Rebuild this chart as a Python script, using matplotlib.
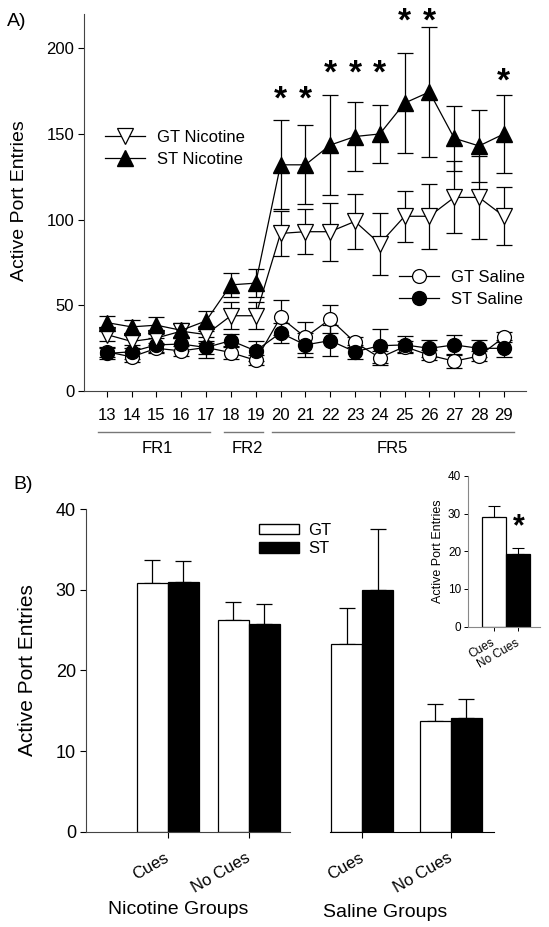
import matplotlib
matplotlib.use("Agg")
import matplotlib.pyplot as plt
from matplotlib.patches import Patch
import numpy as np

plt.rcParams['font.family'] = ['Liberation Sans', 'DejaVu Sans']

# ---- panel A data (sessions 13-29) ----
days = list(range(13, 30))
gt_nic = [33, 29, 31, 35, 33, 44, 44, 92, 93, 93, 99, 86, 102, 102, 113, 113, 102]
gt_nic_err = [4, 4, 4, 4, 5, 8, 8, 13, 13, 17, 16, 18, 15, 19, 21, 24, 17]
st_nic = [40, 37.5, 38.5, 35.5, 41, 62, 63, 132, 132, 143.5, 148.5, 150, 168, 174.5, 147.5, 143, 150]
st_nic_err = [4, 4, 5, 4, 6, 7, 8, 26, 23, 29, 20, 17, 29, 38, 19, 21, 23]
gt_sal = [23, 20, 25, 23.5, 25.5, 22.5, 18, 43, 31.5, 42, 28.5, 19.5, 26, 21, 17.5, 20.5, 31.5]
gt_sal_err = [3, 3, 3, 3, 4, 4, 3, 10, 9, 8, 3, 4, 3, 3, 4, 3, 3]
st_sal = [22, 23, 27, 27.5, 25.5, 29.5, 23.5, 34, 27, 29.5, 23, 26.5, 27, 25, 27, 25, 25]
st_sal_err = [3, 4, 4, 4, 6, 4, 6, 6, 7, 9, 4, 10, 5, 5, 6, 5, 5]

# significance stars (day, height)
star_days = [20, 21, 22, 23, 24, 25, 26, 29]
star_y = [170, 170, 185, 185, 185, 215, 215, 180]

# schedule brackets
phases = ['FR1', 'FR2', 'FR5']
phase_start = [12.64, 17.74, 19.67]
phase_end = [17.17, 19.29, 29.4]
phase_mid = [15.05, 18.66, 24.5]

# ---- panel B data ----
groups = ['Cues', 'No Cues', 'Cues', 'No Cues']
group_pos = [0, 1, 2.4, 3.49]
gt_b = [30.8, 26.2, 23.3, 13.75]
gt_b_err = [2.95, 2.3, 4.5, 2.1]
st_b = [31.0, 25.7, 30.0, 14.1]
st_b_err = [2.6, 2.5, 7.5, 2.4]

# inset
inset_labels = ['Cues', 'No Cues']
inset_vals = [29.0, 19.3]
inset_err = [3.0, 1.7]

fig = plt.figure(figsize=(5.49, 9.27), dpi=100)

# ================= panel A =================
axA = fig.add_axes([0.153, 0.578, 0.805, 0.407])
ms = 10
eb = dict(fmt='none', ecolor='black', elinewidth=0.9, capsize=6, capthick=0.9)

axA.errorbar(days, gt_sal, yerr=gt_sal_err, zorder=2, **eb)
axA.errorbar(days, st_sal, yerr=st_sal_err, zorder=2, **eb)
axA.errorbar(days, gt_nic, yerr=gt_nic_err, zorder=2, **eb)
axA.errorbar(days, st_nic, yerr=st_nic_err, zorder=2, **eb)

l_gs, = axA.plot(days, gt_sal, '-o', color='black', lw=0.9, ms=ms,
                 mfc='white', mec='black', mew=0.9, zorder=3, label='GT Saline')
l_ss, = axA.plot(days, st_sal, '-o', color='black', lw=0.9, ms=ms,
                 mfc='black', mec='black', zorder=4, label='ST Saline')
l_gn, = axA.plot(days, gt_nic, '-v', color='black', lw=0.9, ms=ms + 1,
                 mfc='white', mec='black', mew=0.9, zorder=5, label='GT Nicotine')
l_sn, = axA.plot(days, st_nic, '-^', color='black', lw=0.9, ms=ms + 1,
                 mfc='black', mec='black', zorder=6, label='ST Nicotine')

for d, y in zip(star_days, star_y):
    axA.text(d, y, '*', ha='center', va='center', fontsize=24, fontweight='bold',
             clip_on=False)

axA.set_xlim(12.08, 29.89)
axA.set_ylim(0, 220)
axA.set_xticks(days)
axA.set_yticks([0, 50, 100, 150, 200])
axA.tick_params(labelsize=12, length=4, width=0.8, direction='out', pad=3)
axA.tick_params(axis='x', pad=8)
for s in ['top', 'right']:
    axA.spines[s].set_visible(False)
axA.spines['left'].set_color('#444444')
axA.spines['bottom'].set_color('#444444')

leg1 = axA.legend(handles=[l_gn, l_sn], loc='upper left', bbox_to_anchor=(0.0475, 0.693),
                  frameon=False, fontsize=12, handlelength=2.4, handletextpad=0.7,
                  labelspacing=0.45, borderpad=0, borderaxespad=0, numpoints=1)
axA.add_artist(leg1)
axA.legend(handles=[l_gs, l_ss], loc='upper left', bbox_to_anchor=(0.713, 0.322),
           frameon=False, fontsize=12, handlelength=2.4, handletextpad=0.7,
           labelspacing=0.45, borderpad=0, borderaxespad=0, numpoints=1)

# phase brackets below axis
trA = axA.get_xaxis_transform()
for name, a, b, m in zip(phases, phase_start, phase_end, phase_mid):
    axA.plot([a, b], [-0.109, -0.109], color='#777777', lw=1, transform=trA, clip_on=False)
    axA.text(m, -0.152, name, ha='center', va='center', fontsize=12, transform=trA)

fig.text(0.035, 0.784, 'Active Port Entries', rotation=90, ha='center', va='center', fontsize=14)
fig.text(0.013, 0.977, 'A)', ha='left', va='center', fontsize=14)

# ================= panel B =================
axB = fig.add_axes([0.156, 0.1028, 0.743, 0.348])
w = 0.383
xpos = np.array(group_pos)
axB.bar(xpos - w / 2, gt_b, width=w, color='white', edgecolor='black', linewidth=0.9,
        label='GT', zorder=2)
axB.bar(xpos + w / 2, st_b, width=w, color='black', edgecolor='black', linewidth=0.9,
        label='ST', zorder=2)
axB.errorbar(xpos - w / 2, gt_b, yerr=[np.zeros(4), gt_b_err], fmt='none', ecolor='black',
             elinewidth=0.9, capsize=6, capthick=0.9, zorder=1)
axB.errorbar(xpos + w / 2, st_b, yerr=[np.zeros(4), st_b_err], fmt='none', ecolor='black',
             elinewidth=0.9, capsize=6, capthick=0.9, zorder=1)

axB.set_xlim(-1.015, 4.02)
axB.set_ylim(0, 40)
axB.set_yticks([0, 10, 20, 30, 40])
axB.set_xticks(xpos)
axB.set_xticklabels(groups, rotation=30, ha='right', va='center', rotation_mode='anchor')
axB.tick_params(axis='y', labelsize=13, length=4, width=0.8, pad=3)
axB.tick_params(axis='x', labelsize=12, length=4, width=0.8, pad=14)
for s in ['top', 'right']:
    axB.spines[s].set_visible(False)
# broken x axis
axB.spines['bottom'].set_bounds(-1.015, 1.51)
axB.axhline(0, xmin=(2.0 + 1.015) / (4.02 + 1.015), xmax=1, color='black', lw=0.8,
            clip_on=False)
axB.spines['left'].set_color('#444444')
axB.spines['bottom'].set_color('#444444')

axB.legend(handles=[Patch(facecolor='white', edgecolor='black', label='GT'),
                    Patch(facecolor='black', edgecolor='black', label='ST')],
           loc='upper left', bbox_to_anchor=(0.425, 0.9575), frameon=False, fontsize=12,
           handlelength=2.4, handleheight=0.6, handletextpad=0.55, labelspacing=0.2,
           borderpad=0, borderaxespad=0)

fig.text(0.051, 0.277, 'Active Port Entries', rotation=90, ha='center', va='center', fontsize=15)
fig.text(0.025, 0.477, 'B)', ha='left', va='center', fontsize=14)
fig.text(0.324, 0.0194, 'Nicotine Groups', ha='center', va='center', fontsize=14)
fig.text(0.701, 0.016, 'Saline Groups', ha='center', va='center', fontsize=14)

# ================= inset =================
axI = fig.add_axes([0.8525, 0.324, 0.131, 0.1626])
ipos = np.arange(len(inset_vals))
axI.bar(ipos, inset_vals, width=1.0, color=['white', 'black'], edgecolor='black',
        linewidth=0.9, zorder=2)
axI.errorbar(ipos, inset_vals, yerr=[np.zeros(2), inset_err], fmt='none', ecolor='black',
             elinewidth=0.8, capsize=4, capthick=0.8, zorder=1)
axI.text(1.02, 26.5, '*', ha='center', va='center', fontsize=22, fontweight='bold')
axI.set_xlim(-1.06, 1.9)
axI.set_ylim(0, 40)
axI.set_yticks([0, 10, 20, 30, 40])
axI.set_xticks(ipos)
axI.set_xticklabels(inset_labels, rotation=30, ha='right', va='center', rotation_mode='anchor')
axI.tick_params(axis='y', labelsize=8.5, length=3, width=0.7, pad=2)
axI.tick_params(axis='x', labelsize=8.5, length=3, width=0.7, pad=8)
axI.set_ylabel('Active Port Entries', fontsize=9, labelpad=3)
for s in ['top', 'right']:
    axI.spines[s].set_visible(False)
axI.spines['left'].set_color('#888888')
axI.spines['bottom'].set_color('#888888')

fig.savefig('out.png', dpi=100)
